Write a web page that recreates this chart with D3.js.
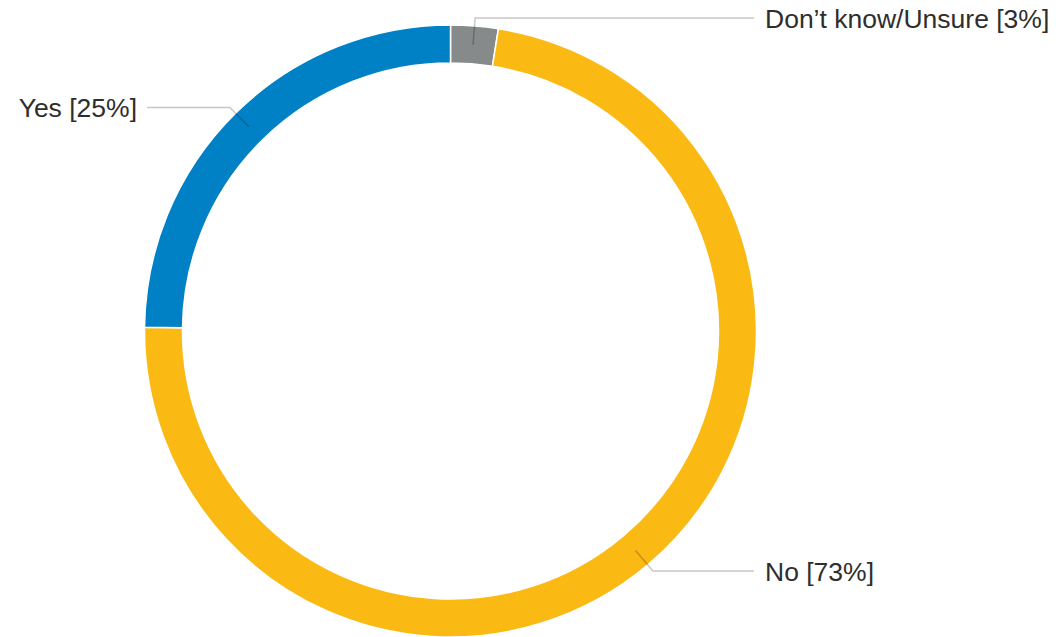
<!DOCTYPE html>
<html>
<head>
<meta charset="utf-8">
<script src="https://cdn.jsdelivr.net/npm/d3@7"></script>
<style>
  html, body { margin: 0; padding: 0; background: #fff; }
  svg { display: block; }
</style>
</head>
<body>
<svg id="chart" width="1056" height="637"></svg>
<script>
const categories = ["Don\u2019t know/Unsure", "No", "Yes"];
const values = [2.5, 72.7, 24.8];
const colors = ["#868a8b", "#fbb914", "#0081c6"];

const W = 1056, H = 637;
const cx = 450.5, cy = 331;
const rOuter = 306, rInner = 268;

const svg = d3.select("#chart");
const g = svg.append("g").attr("transform", `translate(${cx},${cy})`);

const total = d3.sum(values);
const data = categories.map((c, i) => ({ name: c, value: values[i], color: colors[i] }));

const pie = d3.pie().sort(null).value(d => d.value);
const arcs = pie(data);
const arc = d3.arc().innerRadius(rInner).outerRadius(rOuter);

g.selectAll("path.slice")
  .data(arcs)
  .join("path")
  .attr("class", "slice")
  .attr("d", arc)
  .attr("fill", d => d.data.color)
  .attr("stroke", "#fff")
  .attr("stroke-width", 1.5);

const rMid = (rInner + rOuter) / 2;
const rElbow = 314;
const lineRight = 754 - cx, lineLeft = 147 - cx;
const textRight = 765 - cx, textLeft = 137 - cx;

arcs.forEach(a => {
  const ang = (a.startAngle + a.endAngle) / 2;
  const p1 = [Math.sin(ang) * rMid, -Math.cos(ang) * rMid];
  const p2 = [Math.sin(ang) * rElbow, -Math.cos(ang) * rElbow];
  const right = Math.sin(ang) >= 0;
  const p3 = [right ? lineRight : lineLeft, p2[1]];
  g.append("polyline")
    .attr("points", [p1, p2, p3].map(p => p.join(",")).join(" "))
    .attr("fill", "none")
    .attr("stroke", "#000")
    .attr("stroke-opacity", 0.22)
    .attr("stroke-width", 1.5);
  const pct = Math.round(a.data.value / total * 100);
  g.append("text")
    .attr("x", right ? textRight : textLeft)
    .attr("y", p2[1])
    .attr("dy", "0.36em")
    .attr("text-anchor", right ? "start" : "end")
    .attr("font-family", "'Liberation Sans', Arial, sans-serif")
    .attr("font-size", 26.5)
    .attr("fill", "#2e2e2e")
    .text(`${a.data.name} [${pct}%]`);
});
</script>
</body>
</html>
